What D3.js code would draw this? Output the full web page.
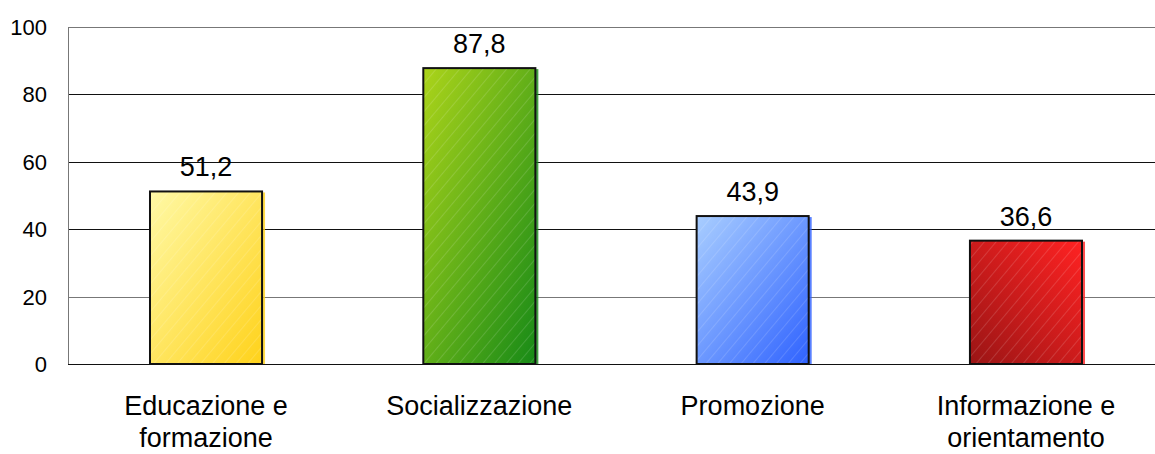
<!DOCTYPE html>
<html>
<head>
<meta charset="utf-8">
<script src="https://cdn.jsdelivr.net/npm/d3@7"></script>
<style>
  body { margin: 0; background: #fff; }
  svg { display: block; font-family: 'Liberation Sans', Arial, sans-serif; }
</style>
</head>
<body>
<div id="chart"></div>
<script>
// data
const categories = [['Educazione e', 'formazione'], ['Socializzazione'], ['Promozione'], ['Informazione e', 'orientamento']]
const values = [51.2, 87.8, 43.9, 36.6]
const yTicks = [0, 20, 40, 60, 80, 100]
// gradient stops [from, to] for each bar
const barColors = [
  ['#fff9a6', '#ffd21a'],
  ['#acd41a', '#178a17'],
  ['#a9ceff', '#2f62ff'],
  ['#9a1515', '#ff2222']
]

const width = 1155
const height = 454
const margin = { top: 27, right: -9, bottom: 90, left: 68 }

const svg = d3.select('#chart').append('svg')
  .attr('width', width)
  .attr('height', height)

const defs = svg.append('defs')

const x = d3.scaleBand()
  .domain(d3.range(values.length))
  .range([margin.left, width - margin.right])
  .paddingInner(0.59)
  .paddingOuter(0.3)

const y = d3.scaleLinear()
  .domain([0, 100])
  .range([height - margin.bottom, margin.top])

// gradients: light at top-left for first three, red goes bottom-left dark to top-right bright
barColors.forEach(function (c, i) {
  let g = defs.append('linearGradient')
    .attr('id', 'grad' + i)
  if (i === 3) {
    g.attr('x1', '0').attr('y1', '1').attr('x2', '1').attr('y2', '0')
  } else {
    g.attr('x1', '0').attr('y1', '0').attr('x2', '1').attr('y2', '1')
  }
  g.append('stop').attr('offset', '0%').attr('stop-color', c[0])
  g.append('stop').attr('offset', '100%').attr('stop-color', c[1])
})

// fine diagonal hatching laid over the gradients
let hatch = defs.append('pattern')
  .attr('id', 'hatch')
  .attr('patternUnits', 'userSpaceOnUse')
  .attr('width', 9)
  .attr('height', 9)
  .attr('patternTransform', 'rotate(40)')
hatch.append('line')
  .attr('x1', 0).attr('y1', 0).attr('x2', 0).attr('y2', 9)
  .attr('stroke', '#fff')
  .attr('stroke-opacity', 0.14)
  .attr('stroke-width', 2)

// gridlines
svg.append('g')
  .selectAll('line')
  .data(yTicks)
  .enter().append('line')
  .attr('x1', margin.left)
  .attr('x2', width)
  .attr('y1', function (d) { return Math.round(y(d)) + 0.5 })
  .attr('y2', function (d) { return Math.round(y(d)) + 0.5 })
  .attr('stroke', function (d) { return (d === 100 || d === 20) ? '#777' : '#111' })
  .attr('stroke-width', 1)

// left axis line
svg.append('line')
  .attr('x1', margin.left + 0.5).attr('x2', margin.left + 0.5)
  .attr('y1', y(100)).attr('y2', y(0))
  .attr('stroke', '#777')

// tick labels
svg.append('g')
  .selectAll('text')
  .data(yTicks)
  .enter().append('text')
  .attr('x', 47)
  .attr('y', function (d) { return y(d) })
  .attr('dy', '0.36em')
  .attr('text-anchor', 'end')
  .attr('font-size', 22)
  .attr('fill', '#000')
  .text(function (d) { return d })

// bars
let bars = svg.append('g')
  .selectAll('g')
  .data(values)
  .enter().append('g')

// small shadow on the right
bars.append('rect')
  .attr('x', function (d, i) { return x(i) + 3 })
  .attr('y', function (d) { return y(d) + 1 })
  .attr('width', x.bandwidth())
  .attr('height', function (d) { return y(0) - y(d) - 1 })
  .attr('fill', function (d, i) { return barColors[i][1] })
  .attr('opacity', 0.8)

bars.append('rect')
  .attr('x', function (d, i) { return x(i) })
  .attr('y', function (d) { return y(d) })
  .attr('width', x.bandwidth())
  .attr('height', function (d) { return y(0) - y(d) })
  .attr('fill', function (d, i) { return 'url(#grad' + i + ')' })

bars.append('rect')
  .attr('x', function (d, i) { return x(i) })
  .attr('y', function (d) { return y(d) })
  .attr('width', x.bandwidth())
  .attr('height', function (d) { return y(0) - y(d) })
  .attr('fill', 'url(#hatch)')
  .attr('stroke', '#111')
  .attr('stroke-width', 2)

// value labels
svg.append('g')
  .selectAll('text')
  .data(values)
  .enter().append('text')
  .attr('x', function (d, i) { return x(i) + x.bandwidth() / 2 })
  .attr('y', function (d) { return y(d) - 15 })
  .attr('text-anchor', 'middle')
  .attr('font-size', 27)
  .attr('fill', '#000')
  .text(function (d) { return d.toFixed(1).replace('.', ',') })

// category labels
let cats = svg.append('g')
  .selectAll('text')
  .data(categories)
  .enter().append('text')
  .attr('x', function (d, i) { return x(i) + x.bandwidth() / 2 })
  .attr('y', 415)
  .attr('text-anchor', 'middle')
  .attr('font-size', 27)
  .attr('fill', '#000')

cats.selectAll('tspan')
  .data(function (d) { return d })
  .enter().append('tspan')
  .attr('x', function () { return d3.select(this.parentNode).attr('x') })
  .attr('dy', function (d, i) { return i === 0 ? 0 : 32 })
  .text(function (d) { return d })
</script>
</body>
</html>
